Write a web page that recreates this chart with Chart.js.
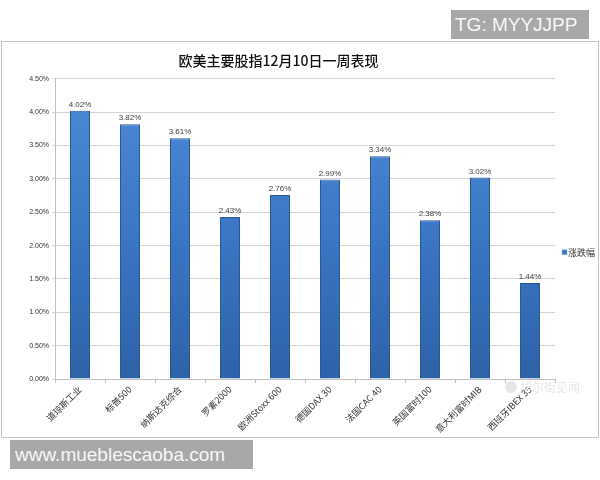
<!DOCTYPE html>
<html lang="zh">
<head>
    <meta charset="UTF-8">
    <title>欧美主要股指12月10日一周表现</title>
    <script src="https://cdn.jsdelivr.net/npm/chart.js"></script>
    <style>
        body { margin: 0; background: #fff; width: 600px; height: 480px; position: relative; overflow: hidden; font-family: "Liberation Sans", Arial, sans-serif; }
        .tag { position: absolute; background: #a8a8a8; color: #f7f7f7; height: 29px; line-height: 29px; box-sizing: border-box; }
        #tg { left: 451px; top: 10px; width: 138px; font-size: 19px; padding-left: 4px; }
        #site { left: 10px; top: 440px; width: 243px; font-size: 19px; padding-left: 5px; }
        #box { position: absolute; left: 1px; top: 41px; width: 598px; height: 397px; border: 1px solid #c4c4c4; box-sizing: border-box; }
        canvas { display: block; }
    </style>
</head>
<body>
<div id="tg" class="tag">TG: MYYJJPP</div>
<div id="box"><canvas id="barChart" width="596" height="395"></canvas></div>
<div id="site" class="tag">www.mueblescaoba.com</div>

<script>
    const TITLE = '欧美主要股指12月10日一周表现';
    const SERIES_NAME = '涨跌幅';
    const indices = ['道琼斯工业', '标普500', '纳斯达克综合', '罗素2000', '欧洲Stoxx 600',
                     '德国DAX 30', '法国CAC 40', '英国富时100', '意大利富时MIB', '西班牙IBEX 35'];
    const weeklyChange = [4.02, 3.82, 3.61, 2.43, 2.76, 2.99, 3.34, 2.38, 3.02, 1.44];
    const Y_MAX = 4.5;
    const Y_STEP = 0.5;

    const CJK = '"Noto Sans CJK SC", "DejaVu Sans", sans-serif';
    const LATIN = '"Liberation Sans", Arial, sans-serif';

    function barFill(context) {
        const area = context.chart.chartArea;
        if (!area) return '#3a76c4';
        const g = context.chart.ctx.createLinearGradient(0, area.top, 0, area.bottom);
        g.addColorStop(0, '#4d8ad6');
        g.addColorStop(0.5, '#3a77c6');
        g.addColorStop(1, '#2e62a8');
        return g;
    }

    // value labels above the bars, legend on the right, faint watermark
    const extras = {
        id: 'extras',
        afterDatasetsDraw(chart) {
            const ctx = chart.ctx;
            const meta = chart.getDatasetMeta(0);
            ctx.save();
            ctx.font = '8px ' + LATIN;
            ctx.fillStyle = '#404040';
            ctx.textAlign = 'center';
            ctx.textBaseline = 'bottom';
            meta.data.forEach((bar, i) => {
                ctx.fillText(weeklyChange[i].toFixed(2) + '%', bar.x, bar.y - 2);
            });

            const a = chart.chartArea;
            const ly = a.top + 174;
            ctx.fillStyle = '#3a77c6';
            ctx.fillRect(a.right + 7, ly - 3, 5, 5);
            ctx.strokeStyle = '#8fb3e0';
            ctx.lineWidth = 0.5;
            ctx.strokeRect(a.right + 7, ly - 3, 5, 5);
            ctx.fillStyle = '#333';
            ctx.font = '9px ' + CJK;
            ctx.textAlign = 'left';
            ctx.textBaseline = 'middle';
            ctx.fillText(chart.data.datasets[0].label, a.right + 13, ly);

            ctx.fillStyle = '#e6e6e6';
            ctx.beginPath();
            ctx.arc(a.right - 44, a.bottom + 8, 6, 0, Math.PI * 2);
            ctx.fill();
            ctx.font = '12px ' + CJK;
            ctx.fillText('华尔街见闻', a.right - 35, a.bottom + 8);
            ctx.restore();
        }
    };

    new Chart(document.getElementById('barChart'), {
        type: 'bar',
        data: {
            labels: indices,
            datasets: [{
                label: SERIES_NAME,
                data: weeklyChange,
                backgroundColor: barFill,
                borderColor: '#2a5796',
                borderWidth: 1,
                barPercentage: 0.8,
                categoryPercentage: 0.5
            }]
        },
        options: {
            responsive: false,
            animation: false,
            layout: { padding: { top: 0, left: 0, right: 43, bottom: 0 } },
            plugins: {
                legend: { display: false },
                tooltip: { enabled: false },
                title: {
                    display: true,
                    text: TITLE,
                    color: '#111',
                    font: { family: CJK, size: 14, weight: 500 },
                    padding: { top: 10, bottom: 10 }
                }
            },
            scales: {
                x: {
                    grid: { display: true, drawOnChartArea: false, drawTicks: true, tickLength: 4, color: '#bfbfbf' },
                    border: { color: '#bfbfbf' },
                    ticks: {
                        autoSkip: false,
                        minRotation: 45,
                        maxRotation: 45,
                        padding: 1,
                        color: '#333',
                        font: { family: CJK, size: 9 }
                    },
                    afterFit: s => { s.height = 58; }
                },
                y: {
                    min: 0,
                    max: Y_MAX,
                    grid: { color: '#d4d4d4', drawTicks: true, tickLength: 3 },
                    border: { color: '#bfbfbf' },
                    ticks: {
                        stepSize: Y_STEP,
                        padding: 3,
                        color: '#333',
                        font: { family: LATIN, size: 7 },
                        callback: v => v.toFixed(2) + '%'
                    },
                    afterFit: s => { s.width = 53; }
                }
            }
        },
        plugins: [extras]
    });
</script>
</body>
</html>
